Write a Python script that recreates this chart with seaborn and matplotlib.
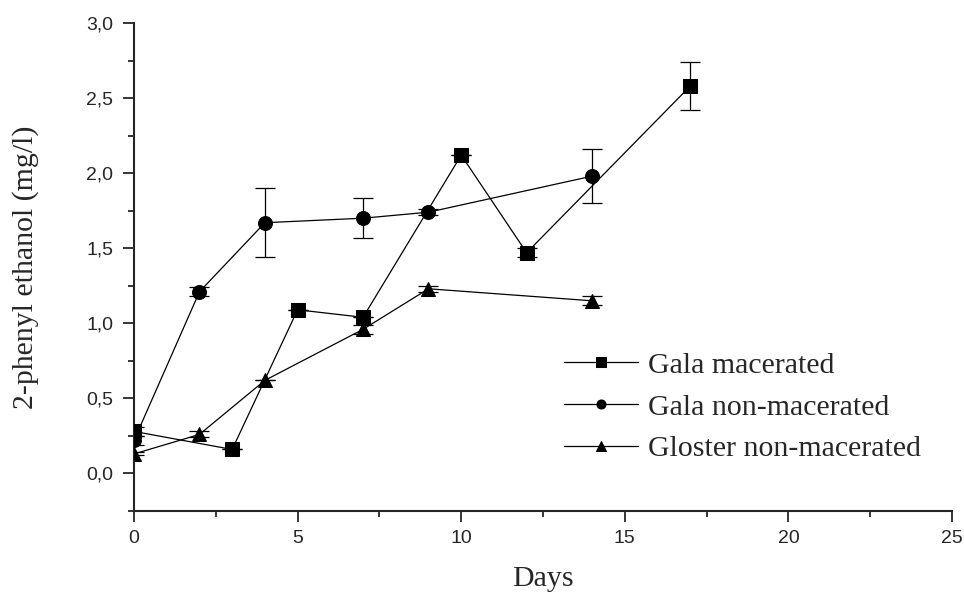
import pandas as pd
import numpy as np
import matplotlib
matplotlib.use("Agg")
import matplotlib.pyplot as plt
from matplotlib.ticker import MultipleLocator, FuncFormatter
import seaborn as sns

# data
days_gala_mac = [0, 3, 5, 7, 10, 12, 17]
gala_mac = [0.28, 0.16, 1.09, 1.04, 2.12, 1.47, 2.58]
gala_mac_err = [0.03, 0.0, 0.0, 0.0, 0.0, 0.03, 0.16]

days_gala_non = [0, 2, 4, 7, 9, 14]
gala_non = [0.22, 1.21, 1.67, 1.70, 1.74, 1.98]
gala_non_err = [0.03, 0.03, 0.23, 0.135, 0.02, 0.18]

days_gloster = [0, 2, 4, 7, 9, 14]
gloster = [0.13, 0.26, 0.62, 0.96, 1.23, 1.15]
gloster_err = [0.01, 0.02, 0.0, 0.03, 0.02, 0.03]

labels = ["Gala macerated", "Gala non-macerated", "Gloster non-macerated"]

frames = []
for lab, d, v, e in zip(labels,
                        [days_gala_mac, days_gala_non, days_gloster],
                        [gala_mac, gala_non, gloster],
                        [gala_mac_err, gala_non_err, gloster_err]):
    frames.append(pd.DataFrame({"Days": d, "value": v, "err": e, "series": lab}))
data = pd.concat(frames, ignore_index=True)

sns.set_style("ticks")
plt.rcParams["font.family"] = ["Liberation Sans", "DejaVu Sans"]

fig = plt.figure(figsize=(9.64, 5.94), dpi=100)
ax = fig.add_axes([0.139, 0.1397, 0.8486, 0.8216])

# error bars first, so markers sit on top
for lab in labels:
    sub = data[data["series"] == lab]
    ax.errorbar(sub["Days"], sub["value"], yerr=sub["err"], fmt="none",
                ecolor="black", elinewidth=0.9, capsize=7.5, capthick=0.9, zorder=2)

sns.lineplot(data=data, x="Days", y="value", hue="series", style="series",
             hue_order=labels, style_order=labels,
             palette=["black"] * 3, markers=["s", "o", "^"], dashes=False,
             markersize=10, linewidth=0.9, markeredgecolor="black",
             sort=False, ax=ax, zorder=3)

ax.set_xlim(0, 25)
ax.set_ylim(-0.25, 3.0)
ax.xaxis.set_major_locator(MultipleLocator(5))
ax.xaxis.set_minor_locator(MultipleLocator(2.5))
ax.set_yticks(np.arange(0, 3.01, 0.5))
ax.yaxis.set_minor_locator(MultipleLocator(0.25))
ax.yaxis.set_major_formatter(FuncFormatter(lambda v, p: f"{v:.1f}".replace(".", ",")))

ax.tick_params(which="major", length=8, width=1.3, labelsize=14)
ax.tick_params(axis="y", which="major", pad=7)
ax.tick_params(axis="x", which="major", pad=6)
ax.tick_params(which="minor", length=4, width=1.3)
for s in ["left", "bottom"]:
    ax.spines[s].set_linewidth(1.5)
sns.despine(ax=ax)

ax.set_xlabel("Days", fontfamily="Liberation Serif", fontsize=21.5, labelpad=13)
ax.set_ylabel("2-phenyl ethanol (mg/l)", fontfamily="Liberation Serif", fontsize=21.5, labelpad=34)

handles, _ = ax.get_legend_handles_labels()
leg = ax.legend(handles, labels, loc="center left", bbox_to_anchor=(0.508, 0.213),
                frameon=False, prop={"family": "Liberation Serif", "size": 21.5},
                handlelength=2.45, markerscale=0.65, labelspacing=0.5,
                handletextpad=0.33, borderpad=0)

fig.savefig("out.png", dpi=100)
